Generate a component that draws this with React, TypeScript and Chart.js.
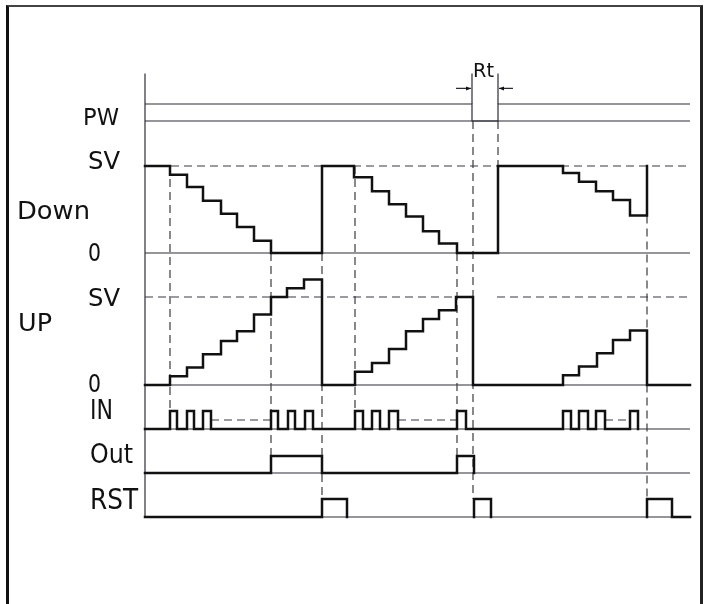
import React, { useEffect, useRef } from "react";
import { Chart, registerables } from "chart.js";

Chart.register(...registerables);

// ---------- data (time axis in drawing units, 0 = start of diagram) ----------
const T_END = 545;

// Power: 1 = on, 0 = off
const pwTimes = [0, 327, 353, 545];
const pwLevels = [1, 0, 1, 1];

// Down counter, % of SV
const downTimes = [0, 25, 42, 58, 76, 92, 109, 126, 177, 209, 227, 244, 261, 278, 294, 312, 353, 418, 434, 451, 468, 485, 502];
const downValues = [100, 90, 76, 60, 45, 30, 14, 0, 100, 87, 71, 56, 42, 25, 11, 0, 100, 92, 82, 71, 61, 43, 100];

// Up counter, % of SV
const upTimes = [0, 25, 42, 58, 76, 92, 109, 126, 142, 159, 177, 210, 227, 244, 261, 278, 294, 311, 328, 418, 434, 452, 468, 485, 502, 545];
const upValues = [0, 10, 20, 35, 50, 61, 80, 100, 110, 120, 0, 15, 25, 41, 61, 75, 85, 100, 0, 11, 21, 36, 51, 62, 0, 0];

// Input pulses
const inTimes = [0, 25, 32, 42, 49, 58, 66, 126, 133, 143, 150, 160, 168, 210, 218, 227, 235, 244, 253, 312, 321, 418, 426, 434, 443, 451, 460, 485, 493];
const inLevels = [0, 1, 0, 1, 0, 1, 0, 1, 0, 1, 0, 1, 0, 1, 0, 1, 0, 1, 0, 1, 0, 1, 0, 1, 0, 1, 0, 1, 0];
// "more pulses" dashed stretches
const inMoreStart = [66, 253, 460];
const inMoreEnd = [126, 312, 485];

// Output
const outTimes = [0, 126, 177, 312, 329];
const outLevels = [0, 1, 0, 1, 0];

// Reset (null = gap, thin baseline shows)
const rstTimes = [0, 177, 202, 265, 329, 329, 346, 420, 502, 502, 527, 545];
const rstLevels = [0, 1, 0, null, 0, 1, 0, null, 0, 1, 0, 0];

// SV reference stretches
const downSvStart = [0];
const downSvEnd = [545];
const upSvStart = [0, 352];
const upSvEnd = [328, 545];

// Vertical guide lines
const guideTimes = [25, 126, 177, 210, 312, 328, 353, 502];
const guideFromLane = ["down", "down", "down", "down", "down", "pw", "pw", "down"];
const guideFromLevel = [100, 0, 0, 100, 0, 0, 0, 43];
const guideToLane = ["in", "out", "rst", "in", "out", "rst", "down", "rst"];
const guideToLevel = [1, 1, 1, 1, 1, 1, 100, 1];

// Texts
const labelText = ["PW", "SV", "Down", "0", "SV", "UP", "0", "IN", "Out", "RST"];
const rtText = "Rt";

// ---------- layout ----------
const LANES: Record<string, { base: number; amp: number }> = {
  pw: { base: 409, amp: 17 },
  down: { base: 277, amp: 0.87 },
  up: { base: 145, amp: 0.88 },
  in: { base: 101, amp: 18 },
  out: { base: 57, amp: 17 },
  rst: { base: 13, amp: 18 },
};
// left, baseline, cap height, width (px)
const labelBox = [
  [83, 125, 17, 36],
  [88, 169, 18, 32],
  [17, 219, 18, 73],
  [88, 261, 18, 13],
  [88, 306, 18, 32],
  [18, 331, 18, 34],
  [88, 392, 18, 13],
  [90, 419, 19, 23],
  [90, 463, 20, 43],
  [90, 509, 21, 48],
];
const AXIS_TOP_PW_LEVEL = 2.8;

const BOLD = "#111111";
const THIN = "#2c2c36";
const DASH = "#3a3a42";

export default function App() {
  const ref = useRef<HTMLCanvasElement>(null);

  useEffect(() => {
    const canvas = ref.current!;
    const yv = (lane: string, level: number | null) =>
      level === null ? null : LANES[lane].base + level * LANES[lane].amp;
    const series = (lane: string, times: number[], levels: (number | null)[]) =>
      times.map((t, i) => ({ x: t, y: yv(lane, levels[i]) }));
    const spans = (lane: string, level: number, starts: number[], ends: number[]) => {
      const pts: any[] = [];
      starts.forEach((s, i) => {
        pts.push({ x: s, y: yv(lane, level) }, { x: ends[i], y: yv(lane, level) }, { x: ends[i], y: null });
      });
      return pts;
    };
    const guides: any[] = [];
    guideTimes.forEach((t, i) => {
      guides.push(
        { x: t, y: yv(guideFromLane[i], guideFromLevel[i]) },
        { x: t, y: yv(guideToLane[i], guideToLevel[i]) },
        { x: t, y: null }
      );
    });

    const bold = (data: any[]) => ({
      data,
      borderColor: BOLD,
      borderWidth: 2.5,
      stepped: "before" as const,
      pointRadius: 0,
      fill: false,
      clip: false as any,
      borderJoinStyle: "miter" as const,
      borderCapStyle: "square" as const,
    });
    const thin = (data: any[], stepped: any = false) => ({
      data,
      borderColor: THIN,
      borderWidth: 1.2,
      stepped,
      pointRadius: 0,
      fill: false,
      clip: false as any,
    });
    const dashed = (data: any[]) => ({
      data,
      borderColor: DASH,
      borderWidth: 1.2,
      borderDash: [8, 5],
      pointRadius: 0,
      fill: false,
      clip: false as any,
    });

    const datasets: any[] = [
      bold(series("down", downTimes, downValues)),
      bold(series("up", upTimes, upValues)),
      bold(series("in", inTimes, inLevels)),
      bold(series("out", outTimes, outLevels)),
      bold(series("rst", rstTimes, rstLevels)),
      thin(series("pw", pwTimes, pwLevels), "before"),
      dashed(spans("down", 100, downSvStart, downSvEnd)),
      dashed(spans("up", 100, upSvStart, upSvEnd)),
      dashed(spans("in", 0.5, inMoreStart, inMoreEnd)),
      dashed(guides),
      thin([
        { x: 0, y: yv("rst", 0) },
        { x: 0, y: yv("pw", AXIS_TOP_PW_LEVEL) },
      ]),
      ...["pw", "down", "up", "in", "out", "rst"].map((l) =>
        thin([
          { x: 0, y: yv(l, 0) },
          { x: T_END, y: yv(l, 0) },
        ])
      ),
    ];

    const annot = {
      id: "annot",
      afterDatasetsDraw(chart: any) {
        const ctx = chart.ctx;
        const xs = chart.scales.x;
        const ys = chart.scales.y;
        ctx.save();
        ctx.fillStyle = BOLD;
        ctx.textBaseline = "alphabetic";
        ctx.textAlign = "left";
        labelText.forEach((txt, i) => {
          const [lx, by, cap, w] = labelBox[i];
          const size = cap / 0.729;
          ctx.font = `${size}px "DejaVu Sans"`;
          const m = ctx.measureText(txt).width;
          ctx.save();
          ctx.translate(lx, by);
          ctx.scale(w / m, 1);
          ctx.fillText(txt, 0, 0);
          ctx.restore();
        });
        // Rt marker
        const x1 = xs.getPixelForValue(pwTimes[1]);
        const x2 = xs.getPixelForValue(pwTimes[2]);
        const yTop = ys.getPixelForValue(yv("pw", AXIS_TOP_PW_LEVEL));
        const yHigh = ys.getPixelForValue(yv("pw", 1));
        ctx.strokeStyle = THIN;
        ctx.lineWidth = 1.2;
        ctx.beginPath();
        ctx.moveTo(x1, yTop);
        ctx.lineTo(x1, yHigh);
        ctx.moveTo(x2, yTop);
        ctx.lineTo(x2, yHigh);
        const ay = yTop + 15;
        ctx.moveTo(x1 - 16, ay);
        ctx.lineTo(x1 - 1, ay);
        ctx.moveTo(x2 + 15, ay);
        ctx.lineTo(x2 + 1, ay);
        ctx.stroke();
        ctx.fillStyle = BOLD;
        ctx.beginPath();
        ctx.moveTo(x1 - 1, ay);
        ctx.lineTo(x1 - 6, ay - 2);
        ctx.lineTo(x1 - 6, ay + 2);
        ctx.closePath();
        ctx.moveTo(x2 + 1, ay);
        ctx.lineTo(x2 + 6, ay - 2);
        ctx.lineTo(x2 + 6, ay + 2);
        ctx.closePath();
        ctx.fill();
        ctx.font = `${14 / 0.729}px "DejaVu Sans"`;
        const rm = ctx.measureText(rtText).width;
        ctx.save();
        ctx.translate(x1 + 1, yTop + 4);
        ctx.scale(21 / rm, 1);
        ctx.fillText(rtText, 0, 0);
        ctx.restore();
        ctx.restore();
      },
    };

    const chart = new Chart(canvas, {
      type: "line",
      data: { datasets },
      options: {
        animation: false,
        responsive: false,
        maintainAspectRatio: false,
        events: [],
        layout: { padding: { left: 145, right: 15, top: 60, bottom: 74 } },
        scales: {
          x: { type: "linear", min: 0, max: T_END, display: false },
          y: { type: "linear", min: 0, max: 470, display: false },
        },
        plugins: { legend: { display: false }, tooltip: { enabled: false } },
        elements: { line: { tension: 0 }, point: { radius: 0 } },
      },
      plugins: [annot],
    });
    return () => chart.destroy();
  }, []);

  return (
    <div
      style={{
        position: "fixed",
        left: 0,
        top: 0,
        width: 705,
        height: 604,
        overflow: "hidden",
        background: "#ffffff",
      }}
    >
      <canvas ref={ref} width={705} height={604} style={{ position: "absolute", left: 0, top: 0 }} />
      <div
        style={{
          position: "absolute",
          left: 6,
          top: 5,
          width: 697,
          height: 700,
          boxSizing: "border-box",
          borderLeft: "3px solid #111",
          borderTop: "2px solid #444",
          borderRight: "3px solid #222",
          pointerEvents: "none",
        }}
      />
    </div>
  );
}
